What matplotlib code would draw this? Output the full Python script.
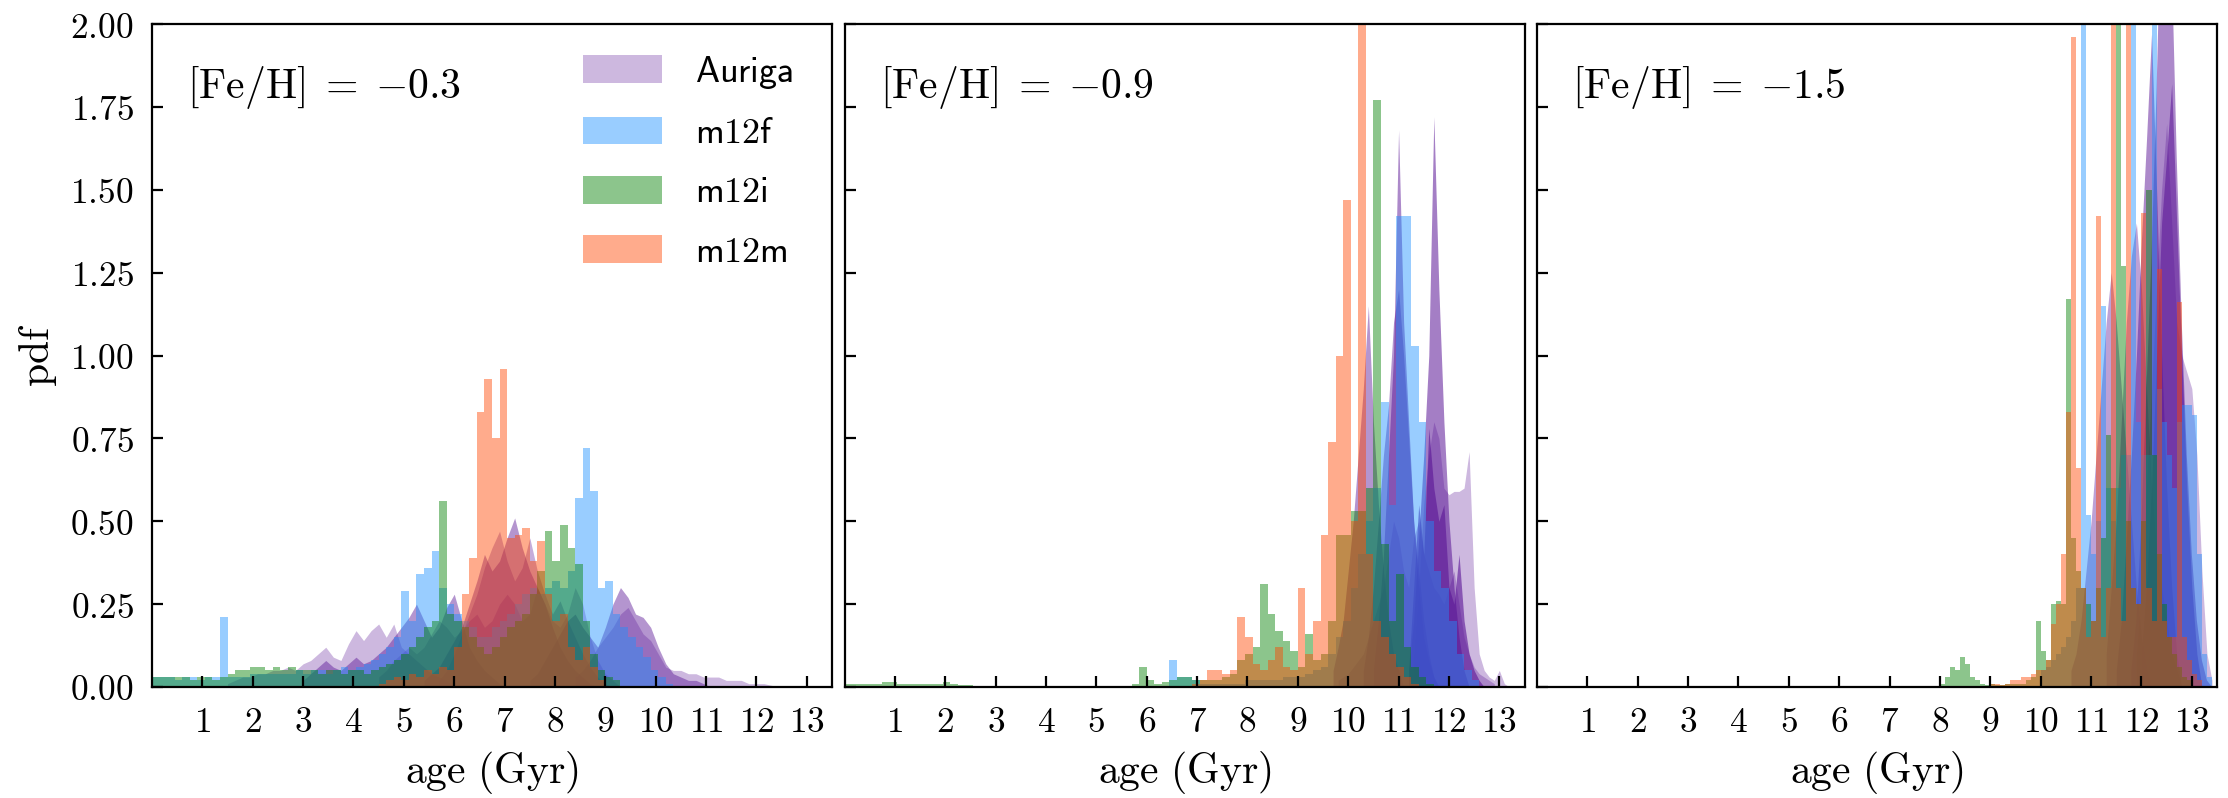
import numpy as np
import matplotlib
matplotlib.use("Agg")
import matplotlib.pyplot as plt

plt.rcParams['mathtext.fontset'] = 'cm'
plt.rcParams['font.family'] = ['DejaVu Serif']

# ---------------- data ----------------
panel_labels = [r'$[\mathrm{Fe/H}]\;=\;{-}0.3$', r'$[\mathrm{Fe/H}]\;=\;{-}0.9$', r'$[\mathrm{Fe/H}]\;=\;{-}1.5$']
sim_names = ['Auriga', 'm12f', 'm12i', 'm12m']
xtick_vals = list(range(1, 14))
ytick_vals = [0.0, 0.25, 0.5, 0.75, 1.0, 1.25, 1.5, 1.75, 2.0]

# histogram bin width (Gyr) and Auriga sampling step per panel
fire_bin_width = [0.15, 0.15, 0.10]
auriga_step = [0.15, 0.10, 0.10]

# ---- panel 1 : [Fe/H] = -0.3 ----
m12f_p1_start = 0.0
m12f_p1 = [0.03, 0.03, 0.03, 0.02, 0.03, 0.03, 0.02, 0.03, 0.03, 0.21,
           0.03, 0.03, 0.03, 0.04, 0.04, 0.04, 0.04, 0.04, 0.04, 0.05,
           0.04, 0.05, 0.05, 0.04, 0.05, 0.06, 0.05, 0.06, 0.07, 0.08,
           0.10, 0.12, 0.15, 0.29, 0.20, 0.34, 0.36, 0.41, 0.30, 0.25,
           0.22, 0.20, 0.18, 0.15, 0.15, 0.18, 0.20, 0.22, 0.25, 0.28,
           0.30, 0.28, 0.30, 0.32, 0.30, 0.35, 0.57, 0.72, 0.59, 0.30,
           0.32, 0.22, 0.18, 0.15, 0.12, 0.09, 0.05, 0.03, 0.01]
m12i_p1_start = 0.0
m12i_p1 = [0.03, 0.03, 0.03, 0.03, 0.03, 0.02, 0.03, 0.03, 0.02, 0.03,
           0.04, 0.05, 0.05, 0.06, 0.06, 0.05, 0.06, 0.05, 0.06, 0.05,
           0.05, 0.05, 0.04, 0.05, 0.05, 0.04, 0.05, 0.05, 0.04, 0.05,
           0.06, 0.07, 0.08, 0.10, 0.12, 0.15, 0.18, 0.20, 0.56, 0.22,
           0.20, 0.18, 0.15, 0.12, 0.10, 0.12, 0.15, 0.18, 0.20, 0.22,
           0.28, 0.35, 0.47, 0.38, 0.49, 0.42, 0.37, 0.20, 0.10, 0.05,
           0.03, 0.02]
m12m_p1_start = 4.5
m12m_p1 = [0.01, 0.02, 0.03, 0.02, 0.04, 0.03, 0.05, 0.04, 0.06, 0.05,
           0.12, 0.28, 0.39, 0.83, 0.93, 0.75, 0.96, 0.45, 0.46, 0.48,
           0.38, 0.44, 0.28, 0.20, 0.22, 0.12, 0.08, 0.12, 0.06, 0.02]

auriga_p1_starts = [1.5, 3.0, 5.4, 5.7, 7.5, 8.4, 4.5]
auriga_p1_h1 = [0.01, 0.02, 0.03, 0.03, 0.04, 0.04, 0.05, 0.05, 0.06, 0.05, 0.07, 0.08, 0.10,
                0.12, 0.09, 0.08, 0.13, 0.17, 0.14, 0.17, 0.19, 0.15, 0.19, 0.12, 0.10, 0.08,
                0.06, 0.04, 0.03, 0.02, 0.0]
auriga_p1_h2 = [0.02, 0.04, 0.06, 0.08, 0.06, 0.05, 0.07, 0.09, 0.07, 0.08, 0.10, 0.12, 0.15,
                0.18, 0.21, 0.25, 0.20, 0.15, 0.18, 0.24, 0.28, 0.20, 0.12, 0.08, 0.05, 0.03,
                0.01, 0.0]
auriga_p1_h3 = [0.02, 0.04, 0.06, 0.10, 0.14, 0.18, 0.25, 0.32, 0.40, 0.35, 0.38, 0.45, 0.51,
                0.42, 0.35, 0.30, 0.25, 0.18, 0.12, 0.08, 0.05, 0.03, 0.01, 0.0]
auriga_p1_h4 = [0.02, 0.05, 0.10, 0.16, 0.22, 0.28, 0.36, 0.42, 0.47, 0.38, 0.32, 0.36, 0.45,
                0.35, 0.28, 0.22, 0.26, 0.20, 0.15, 0.10, 0.06, 0.03, 0.01, 0.0]
auriga_p1_h5 = [0.02, 0.04, 0.08, 0.12, 0.16, 0.20, 0.22, 0.18, 0.15, 0.12, 0.18, 0.25, 0.30,
                0.27, 0.22, 0.21, 0.18, 0.12, 0.07, 0.04, 0.03, 0.02, 0.02, 0.01, 0.0]
auriga_p1_h6 = [0.03, 0.05, 0.08, 0.12, 0.15, 0.18, 0.22, 0.24, 0.20, 0.16, 0.14, 0.10, 0.06,
                0.05, 0.05, 0.04, 0.04, 0.03, 0.03, 0.03, 0.02, 0.02, 0.02, 0.01, 0.01, 0.01,
                0.005, 0.0]
auriga_p1_h7 = [0.03, 0.05, 0.08, 0.10, 0.12, 0.10, 0.12, 0.16, 0.20, 0.18, 0.15, 0.17, 0.20,
                0.22, 0.18, 0.20, 0.25, 0.28, 0.25, 0.20, 0.22, 0.30, 0.25, 0.20, 0.18, 0.22,
                0.30, 0.25, 0.15, 0.08, 0.04, 0.02, 0.0]

# ---- panel 2 : [Fe/H] = -0.9 ----
m12f_p2_start = 6.45
m12f_p2 = [0.08, 0.03, 0.03, 0.02, 0.01, 0.01, 0.01, 0.01, 0.01, 0.01,
           0.02, 0.02, 0.02, 0.02, 0.02, 0.03, 0.03, 0.03, 0.04, 0.05,
           0.06, 0.10, 0.15, 0.20, 0.30, 0.40, 0.50, 0.60, 0.86, 0.55,
           1.42, 1.42, 1.03, 0.80, 0.50, 0.35, 0.30, 0.20, 0.10, 0.05,
           0.02]
m12i_p2_start = 0.0
m12i_p2 = [0.01, 0.01, 0.01, 0.01, 0.01, 0.015, 0.015, 0.01, 0.01, 0.01,
           0.01, 0.01, 0.01, 0.015, 0.01, 0.005, 0.005, 0.0, 0.0, 0.0,
           0.0, 0.0, 0.0, 0.0, 0.0, 0.0, 0.0, 0.0, 0.0, 0.0,
           0.0, 0.0, 0.0, 0.0, 0.0, 0.0, 0.0, 0.0, 0.01, 0.06,
           0.02, 0.01, 0.015, 0.02, 0.03, 0.03, 0.02, 0.02, 0.02, 0.02,
           0.03, 0.04, 0.08, 0.10, 0.12, 0.31, 0.22, 0.17, 0.14, 0.11,
           0.06, 0.16, 0.08, 0.10, 0.20, 0.46, 0.46, 0.53, 0.53, 0.60,
           1.77, 0.43, 0.20, 0.34, 0.12, 0.06, 0.03, 0.01]
m12m_p2_start = 6.9
m12m_p2 = [0.01, 0.02, 0.05, 0.05, 0.04, 0.05, 0.21, 0.15, 0.07, 0.05,
           0.08, 0.12, 0.06, 0.05, 0.30, 0.10, 0.20, 0.46, 0.74, 1.00,
           1.47, 0.50, 2.30, 0.40, 0.20, 0.15, 0.10, 0.06, 0.03, 0.01]

auriga_p2_starts = [10.5, 11.2, 9.7, 11.3, 11.2, 9.8, 10.3]
auriga_p2_h1 = [0.05, 0.2, 0.4, 0.7, 1.0, 1.68, 1.1, 0.8, 0.5, 0.3, 0.15, 0.08, 0.03, 0.0]
auriga_p2_h2 = [0.05, 0.2, 0.45, 0.7, 1.0, 1.72, 1.2, 0.8, 0.5, 0.3, 0.15, 0.05, 0.0]
auriga_p2_h3 = [0.05, 0.12, 0.2, 0.35, 0.5, 0.7, 0.9, 1.15, 0.8, 0.55, 0.35, 0.2, 0.1, 0.05, 0.0]
auriga_p2_h4 = [0.1, 0.3, 0.55, 0.7, 0.8, 0.75, 0.6, 0.58, 0.59, 0.59, 0.6, 0.71, 0.3, 0.1,
                0.05, 0.03, 0.02, 0.05, 0.01, 0.0]
auriga_p2_h5 = [0.05, 0.3, 0.55, 0.4, 0.78, 0.6, 0.5, 0.55, 0.3, 0.25, 0.4, 0.2, 0.1, 0.05,
                0.02, 0.0]
auriga_p2_h6 = [0.02, 0.03, 0.04, 0.06, 0.08, 0.1, 0.15, 0.2, 0.25, 0.3, 0.4, 0.5, 0.45, 0.35,
                0.3, 0.45, 0.5, 0.4, 0.35, 0.3, 0.28, 0.25, 0.3, 0.35, 0.25, 0.15, 0.1, 0.06,
                0.04, 0.03, 0.02, 0.01]
auriga_p2_h7 = [0.05, 0.15, 0.3, 0.5, 0.7, 0.85, 1.1, 1.2, 1.0, 0.75, 0.5, 0.35, 0.2, 0.1,
                0.03, 0.0]

# ---- panel 3 : [Fe/H] = -1.5 ----
m12f_p3_start = 10.0
m12f_p3 = [0.05, 0.06, 0.08, 0.10, 0.12, 0.15, 0.20, 0.30, 2.50, 0.52,
           0.40, 0.50, 1.15, 0.60, 0.50, 0.60, 0.70, 0.70, 2.50, 0.80,
           0.70, 0.70, 2.50, 0.90, 0.80, 0.70, 0.60, 0.80, 0.85, 0.85,
           0.82, 0.40, 0.10, 0.03]
m12i_p3_start = 8.0
m12i_p3 = [0.01, 0.03, 0.06, 0.05, 0.09, 0.07, 0.03, 0.02, 0.01, 0.005,
           0.01, 0.005, 0.005, 0.01, 0.01, 0.01, 0.01, 0.02, 0.03, 0.20,
           0.11, 0.08, 0.25, 0.26, 0.25, 1.17, 0.45, 0.35, 0.30, 0.25,
           0.20, 0.30, 0.45, 0.76, 0.60, 2.50, 1.27, 0.50, 0.30, 0.25,
           0.50, 1.50, 0.70, 0.40, 0.25, 0.15, 0.10, 0.06, 0.03, 0.02]
m12m_p3_start = 9.0
m12m_p3 = [0.01, 0.01, 0.005, 0.01, 0.02, 0.02, 0.03, 0.03, 0.04, 0.05,
           0.05, 0.08, 0.19, 0.25, 0.40, 0.83, 1.96, 0.66, 0.30, 0.15,
           0.20, 1.42, 0.15, 0.30, 2.50, 0.30, 0.20, 2.50, 0.30, 0.25,
           1.43, 0.30, 0.20, 1.26, 0.20, 0.15, 0.15, 1.16, 0.15, 0.08,
           0.04, 0.02]

auriga_p3_starts = [11.5, 11.8, 12.0, 11.9, 10.6, 11.3]
auriga_p3_h1 = [0.05, 0.2, 0.45, 0.7, 1.0, 1.35, 1.65, 1.97, 1.5, 1.0, 0.6, 0.3, 0.1, 0.0]
auriga_p3_h2 = [0.05, 0.2, 0.5, 0.9, 1.3, 1.8, 2.4, 2.6, 2.2, 1.6, 1.1, 0.7, 0.4, 0.2, 0.08,
                0.02, 0.0]
auriga_p3_h3 = [0.1, 0.3, 0.6, 1.0, 1.4, 1.6, 1.82, 1.4, 1.0, 0.6, 0.3, 0.1, 0.0]
auriga_p3_h4 = [0.1, 0.3, 0.6, 0.9, 1.2, 1.5, 1.7, 1.4, 1.1, 1.0, 0.95, 0.9, 0.7, 0.35, 0.1,
                0.02]
auriga_p3_h5 = [0.05, 0.1, 0.2, 0.35, 0.5, 0.7, 0.9, 1.1, 1.25, 1.1, 0.9, 0.7, 0.5, 0.3, 0.15,
                0.05, 0.0]
auriga_p3_h6 = [0.1, 0.3, 0.5, 0.8, 1.1, 1.3, 1.4, 1.2, 0.9, 0.6, 0.4, 0.3, 0.2, 0.1, 0.05, 0.0]

# per-halo opacity of the Auriga polygons (style)
auriga_p1_alpha = [0.30, 0.45, 0.45, 0.35, 0.45, 0.30, 0.30]
auriga_p2_alpha = [0.50, 0.55, 0.45, 0.30, 0.60, 0.30, 0.45]
auriga_p3_alpha = [0.50, 0.50, 0.55, 0.30, 0.40, 0.40]

# ---------------- assembly ----------------
fire_panels = [
    {'m12f': (m12f_p1_start, m12f_p1), 'm12i': (m12i_p1_start, m12i_p1), 'm12m': (m12m_p1_start, m12m_p1)},
    {'m12f': (m12f_p2_start, m12f_p2), 'm12i': (m12i_p2_start, m12i_p2), 'm12m': (m12m_p2_start, m12m_p2)},
    {'m12f': (m12f_p3_start, m12f_p3), 'm12i': (m12i_p3_start, m12i_p3), 'm12m': (m12m_p3_start, m12m_p3)},
]
auriga_panels = [
    list(zip(auriga_p1_starts, [auriga_p1_h1, auriga_p1_h2, auriga_p1_h3, auriga_p1_h4,
                                auriga_p1_h5, auriga_p1_h6, auriga_p1_h7], auriga_p1_alpha)),
    list(zip(auriga_p2_starts, [auriga_p2_h1, auriga_p2_h2, auriga_p2_h3, auriga_p2_h4,
                                auriga_p2_h5, auriga_p2_h6, auriga_p2_h7], auriga_p2_alpha)),
    list(zip(auriga_p3_starts, [auriga_p3_h1, auriga_p3_h2, auriga_p3_h3, auriga_p3_h4,
                                auriga_p3_h5, auriga_p3_h6], auriga_p3_alpha)),
]

colors = {'Auriga': (90/255, 20/255, 150/255), 'm12f': '#1e90ff', 'm12i': '#008000', 'm12m': '#ff4500'}
fire_alpha = 0.45

# ---------------- figure ----------------
W, H = 2228, 798
fig = plt.figure(figsize=(W / 100, H / 100), dpi=100)
lefts = [152, 844.5, 1537]
ax_w, ax_top, ax_bot = 680, 24, 687

legend_handles = {}
for i in range(3):
    ax = fig.add_axes([lefts[i] / W, (H - ax_bot) / H, ax_w / W, (ax_bot - ax_top) / H])

    # Auriga haloes (linear polygons)
    step = auriga_step[i]
    for start, vals, a in auriga_panels[i]:
        x = start + step * np.arange(len(vals))
        h = ax.fill_between(x, 0, vals, color=colors['Auriga'], alpha=a, lw=0)
        legend_handles.setdefault('Auriga', h)

    # FIRE haloes (step-filled histograms)
    bw = fire_bin_width[i]
    for name in ['m12f', 'm12i', 'm12m']:
        start, vals = fire_panels[i][name]
        edges = start + bw * np.arange(len(vals) + 1)
        h = ax.stairs(vals, edges, fill=True, color=colors[name], alpha=fire_alpha, lw=0)
        legend_handles.setdefault(name, h)

    ax.set_xlim(0, 13.5)
    ax.set_ylim(0, 2.0)
    ax.set_xticks(xtick_vals, labels=[rf'${v}$' for v in xtick_vals])
    ax.set_yticks(ytick_vals, labels=[rf'${v:.2f}$' for v in ytick_vals])
    ax.tick_params(direction='in', length=8, width=1.6, pad=13, labelsize=25.5,
                   top=False, right=False, colors='black')
    if i > 0:
        ax.tick_params(labelleft=False)
    for sp in ax.spines.values():
        sp.set_linewidth(1.6)
    ax.set_xlabel(r'$\mathrm{age\ (Gyr)}$', fontsize=30, labelpad=7)
    ax.text(0.052, 0.94, panel_labels[i], transform=ax.transAxes, fontsize=30,
            ha='left', va='top')
    if i == 0:
        ax.set_ylabel(r'$\mathrm{pdf}$', fontsize=30, labelpad=8)
        ax.legend([legend_handles[n] for n in sim_names],
                  [rf'$\mathsf{{{n}}}$' for n in sim_names],
                  loc='upper left', bbox_to_anchor=((583 - 152) / ax_w, 0.955),
                  frameon=False, fontsize=26, handlelength=2.2, handleheight=0.8,
                  handletextpad=0.9, labelspacing=0.7, borderpad=0, borderaxespad=0)

fig.savefig('out.png', dpi=100)
